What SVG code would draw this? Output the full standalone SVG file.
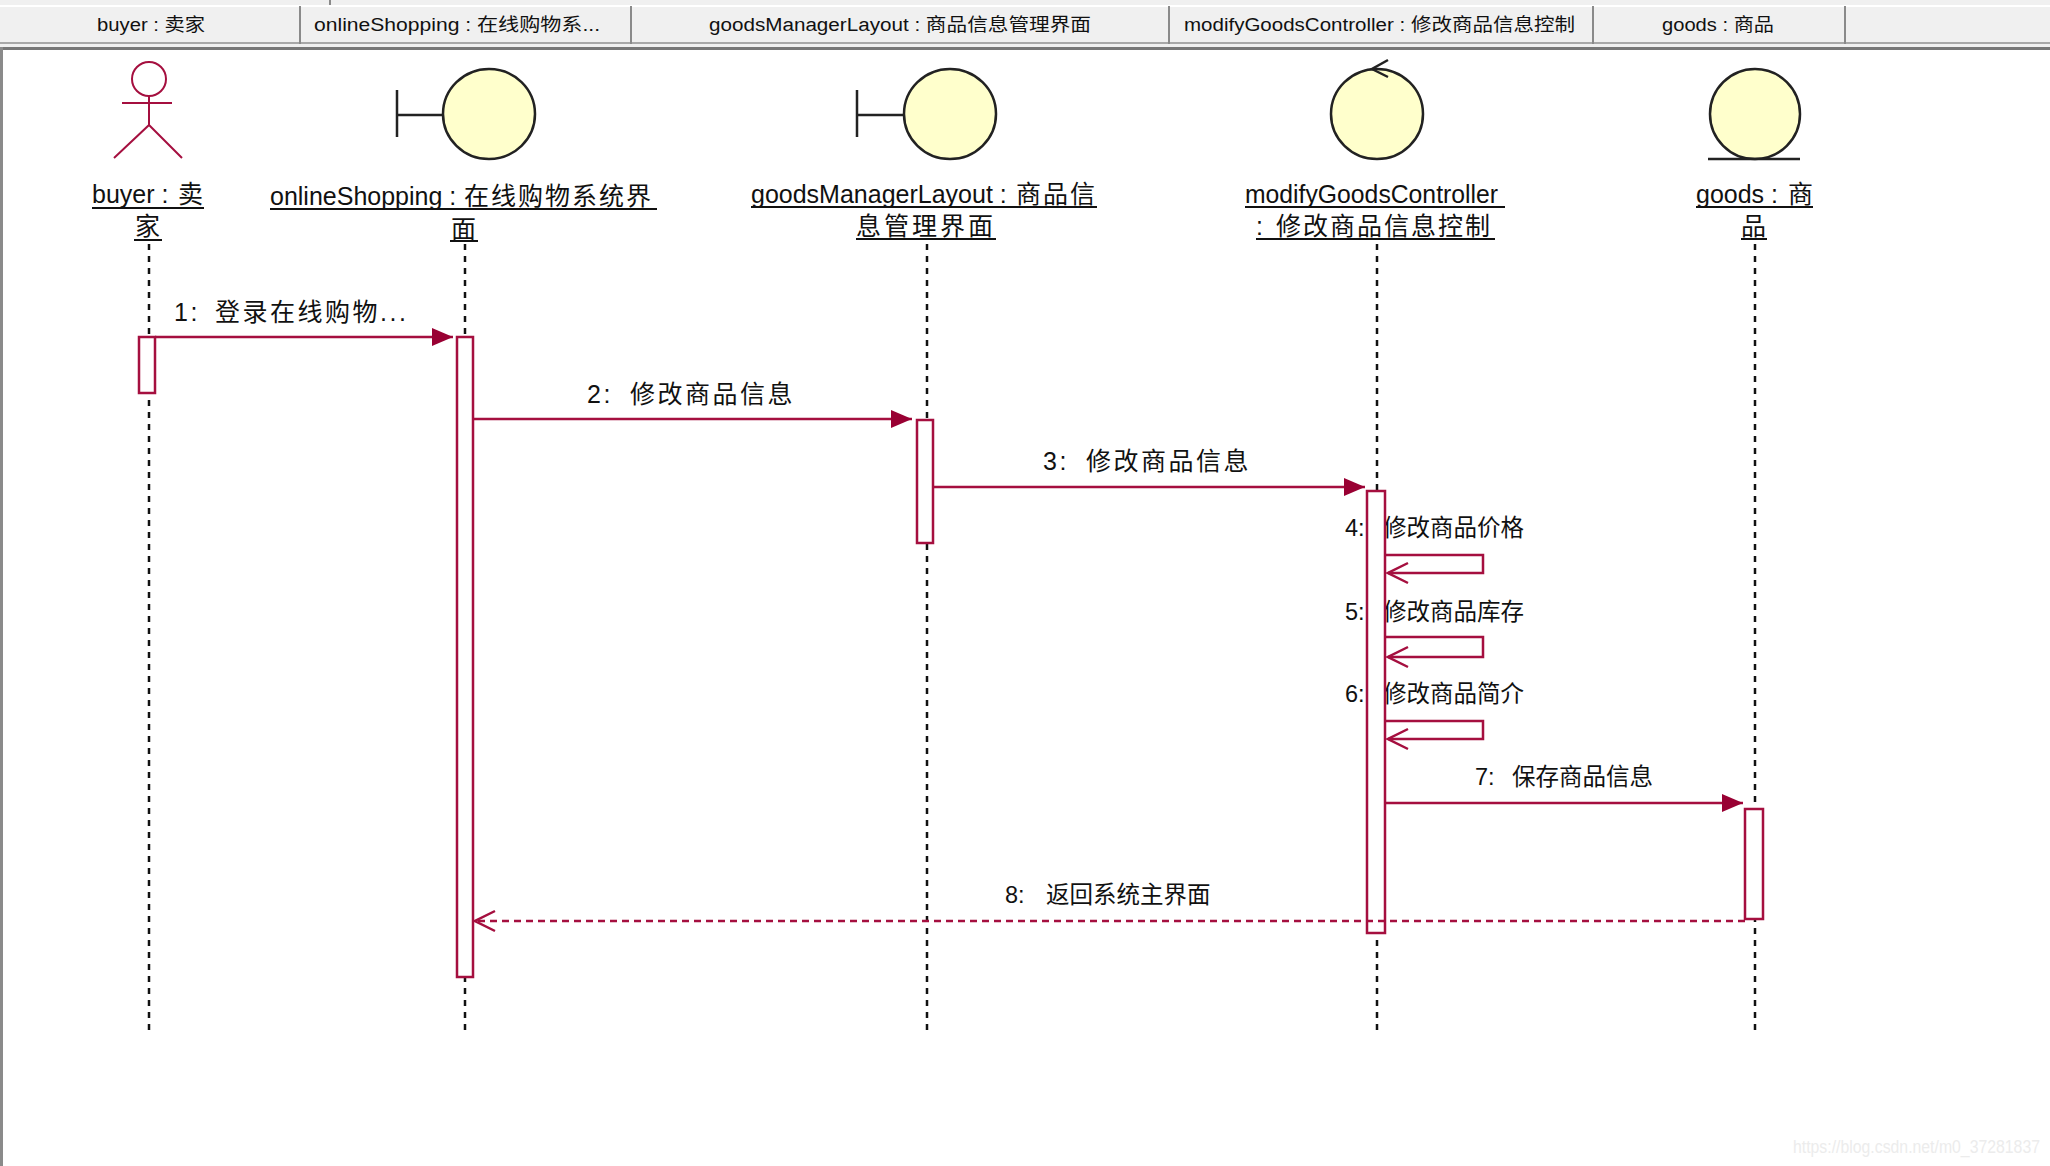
<svg xmlns="http://www.w3.org/2000/svg" width="2050" height="1166" viewBox="0 0 2050 1166">
<style>
text{font-family:"Liberation Sans","Noto Sans CJK SC",sans-serif;fill:#111;white-space:pre}
.tab{font-size:18px}
.name{font-size:25px}
.msg{font-size:25px;letter-spacing:2.5px}
.msg2{font-size:23.5px}
.cj{letter-spacing:2px}
.ul{stroke:#111;stroke-width:2}
.ln{stroke:#222;stroke-width:2.5;fill:none}
.life{stroke:#111;stroke-width:2.5;stroke-dasharray:6 6}
.act{fill:#fff;stroke:#a50f3f;stroke-width:2.5}
.ball{fill:#ffffcc;stroke:#222;stroke-width:2.5}
.fig{stroke:#a50f3f;stroke-width:2;fill:none}
.con{stroke:#a50f3f;stroke-width:2.5;fill:none}
.dash{stroke-dasharray:7 5}
.sep{stroke:#8a8a8a;stroke-width:2}
</style>
<defs>
<marker id="solid" markerUnits="userSpaceOnUse" markerWidth="22" markerHeight="20" refX="21" refY="10" orient="auto"><path d="M0 1 L21 10 L0 19 Z" fill="#990033"/></marker>
<marker id="open" markerUnits="userSpaceOnUse" markerWidth="24" markerHeight="24" refX="22" refY="12" orient="auto"><path d="M2 2 L22 12 L2 22" fill="none" stroke="#a50f3f" stroke-width="2.5"/></marker>
</defs>
<rect width="2050" height="1166" fill="#fff"/>
<g id="tabbar">
<rect x="0" y="0" width="2050" height="47" fill="#f0f0f0"/>
<rect x="0" y="5" width="2050" height="2" fill="#fff"/>
<rect x="0" y="42" width="2050" height="2" fill="#a8a8a8"/>
<rect x="0" y="47" width="2050" height="3" fill="#777"/>
<rect x="0" y="47" width="3" height="1119" fill="#8a8a8a"/>
<line class="sep" x1="330" y1="0" x2="330" y2="5"/>
<line class="sep" x1="300" y1="6" x2="300" y2="44"/>
<line class="sep" x1="631" y1="6" x2="631" y2="44"/>
<line class="sep" x1="1169" y1="6" x2="1169" y2="44"/>
<line class="sep" x1="1593" y1="6" x2="1593" y2="44"/>
<line class="sep" x1="1845" y1="6" x2="1845" y2="44"/>
<text class="tab" x="97" y="31" textLength="108" lengthAdjust="spacingAndGlyphs">buyer : 卖家</text>
<text class="tab" x="314" y="31" textLength="286" lengthAdjust="spacingAndGlyphs">onlineShopping : 在线购物系...</text>
<text class="tab" x="709" y="31" textLength="382" lengthAdjust="spacingAndGlyphs">goodsManagerLayout : 商品信息管理界面</text>
<text class="tab" x="1184" y="31" textLength="391" lengthAdjust="spacingAndGlyphs">modifyGoodsController : 修改商品信息控制</text>
<text class="tab" x="1662" y="31" textLength="112" lengthAdjust="spacingAndGlyphs">goods : 商品</text>
</g>
<g id="message-labels">
<text class="msg" x="174" y="321">1:<tspan x="215">登录在线购物...</tspan></text>
<text class="msg" x="587" y="403">2:<tspan x="630">修改商品信息</tspan></text>
<text class="msg" x="1043" y="470">3:<tspan x="1086">修改商品信息</tspan></text>
<text class="msg2" x="1345" y="536" style="letter-spacing:0">4: <tspan x="1383">修改商品价格</tspan></text>
<text class="msg2" x="1345" y="620">5: <tspan x="1383">修改商品库存</tspan></text>
<text class="msg2" x="1345" y="702">6: <tspan x="1383">修改商品简介</tspan></text>
<text class="msg2" x="1475" y="785">7: <tspan x="1512">保存商品信息</tspan></text>
<text class="msg2" x="1005" y="903">8: <tspan x="1046">返回系统主界面</tspan></text>
</g>
<g id="node-buyer">
<ellipse class="fig" cx="149" cy="79" rx="17" ry="17"/>
<path class="fig" d="M122 103 H172 M149 96 V125 L114 158 M149 125 L182 158"/>
<text class="name" x="92" y="203">buyer :<tspan x="178">卖</tspan></text>
<line class="ul" x1="92" y1="208" x2="204" y2="208"/>
<text class="name" x="135" y="235">家</text>
<line class="ul" x1="134" y1="240" x2="162" y2="240"/>
<line class="life" x1="149" y1="244" x2="149" y2="1030"/>
<rect class="act" x="139" y="337" width="16" height="56"/>
</g>
<g id="node-onlineShopping">
<ellipse class="ball" cx="489" cy="114" rx="46" ry="45"/>
<path class="ln" d="M397 90 V137 M397 115 H443"/>
<text class="name" x="270" y="205">onlineShopping :<tspan class="cj" x="464">在线购物系统界</tspan></text>
<line class="ul" x1="270" y1="209" x2="657" y2="209"/>
<text class="name" x="451" y="238">面</text>
<line class="ul" x1="450" y1="241" x2="478" y2="241"/>
<line class="life" x1="465" y1="244" x2="465" y2="1030"/>
<rect class="act" x="457" y="337" width="16" height="640"/>
</g>
<g id="node-goodsManagerLayout">
<ellipse class="ball" cx="950" cy="114" rx="46" ry="45"/>
<path class="ln" d="M857 90 V137 M857 115 H904"/>
<text class="name" x="751" y="203">goodsManagerLayout :<tspan class="cj" x="1016">商品信</tspan></text>
<line class="ul" x1="751" y1="207" x2="1097" y2="207"/>
<text class="name" x="856" y="235" style="letter-spacing:3px">息管理界面</text>
<line class="ul" x1="856" y1="239" x2="996" y2="239"/>
<line class="life" x1="927" y1="244" x2="927" y2="1030"/>
<rect class="act" x="917" y="420" width="16" height="123"/>
</g>
<g id="node-modifyGoodsController">
<ellipse class="ball" cx="1377" cy="114" rx="46" ry="45"/>
<path class="ln" d="M1388 60 L1372 69 L1388 77"/>
<text class="name" x="1245" y="203" textLength="253" lengthAdjust="spacingAndGlyphs">modifyGoodsController</text>
<line class="ul" x1="1245" y1="207" x2="1505" y2="207"/>
<text class="name" x="1256" y="235">:<tspan class="cj" x="1276">修改商品信息控制</tspan></text>
<line class="ul" x1="1256" y1="239" x2="1495" y2="239"/>
<line class="life" x1="1377" y1="244" x2="1377" y2="1030"/>
<rect class="act" x="1367" y="491" width="18" height="442"/>
</g>
<g id="node-goods">
<ellipse class="ball" cx="1755" cy="114" rx="45" ry="45"/>
<line class="ln" x1="1708" y1="159" x2="1800" y2="159"/>
<text class="name" x="1696" y="203">goods :<tspan x="1788">商</tspan></text>
<line class="ul" x1="1696" y1="207" x2="1813" y2="207"/>
<text class="name" x="1741" y="235">品</text>
<line class="ul" x1="1741" y1="239" x2="1767" y2="239"/>
<line class="life" x1="1755" y1="244" x2="1755" y2="1030"/>
<rect class="act" x="1745" y="809" width="18" height="110"/>
</g>
<g id="connectors">
<path class="con" d="M155 337 H453" marker-end="url(#solid)"/>
<path class="con" d="M473 419 H912" marker-end="url(#solid)"/>
<path class="con" d="M933 487 H1365" marker-end="url(#solid)"/>
<path class="con" d="M1385 555 H1483 V573 H1388" marker-end="url(#open)"/>
<path class="con" d="M1385 637 H1483 V657 H1388" marker-end="url(#open)"/>
<path class="con" d="M1385 721 H1483 V739 H1388" marker-end="url(#open)"/>
<path class="con" d="M1385 803 H1743" marker-end="url(#solid)"/>
<path class="con dash" d="M1745 921 H475" marker-end="url(#open)"/>
</g>
<text x="1793" y="1153" font-size="18" textLength="247" lengthAdjust="spacingAndGlyphs" style="fill:#ececec">https://blog.csdn.net/m0_37281837</text>
</svg>
